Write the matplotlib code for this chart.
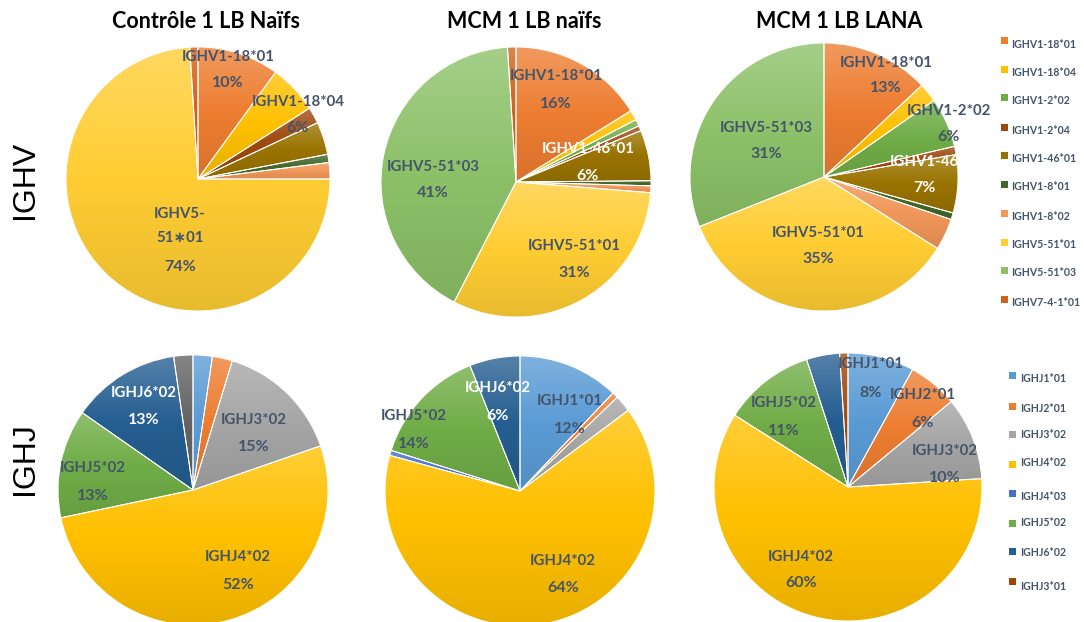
import numpy as np
import matplotlib
matplotlib.use("Agg")
import matplotlib.pyplot as plt
from matplotlib.colors import to_rgb
from matplotlib.patches import Rectangle

W, H = 1084, 622

# ---- data -----------------------------------------------------------------
titles = ["Contrôle 1 LB Naïfs", "MCM 1 LB naïfs", "MCM 1 LB LANA"]
row_labels = ["IGHV", "IGHJ"]

v_genes = ["IGHV1-18*01", "IGHV1-18*04", "IGHV1-2*02", "IGHV1-2*04", "IGHV1-46*01",
           "IGHV1-8*01", "IGHV1-8*02", "IGHV5-51*01", "IGHV5-51*03", "IGHV7-4-1*01"]
v_ctrl = [10, 6, 0, 2, 4, 1, 2, 74, 0, 1]
v_mcm_naif = [16, 1.2, 0.8, 0.6, 6, 0.6, 0.8, 31, 41, 1]
v_mcm_lana = [13, 2.3, 6, 1, 7, 0.8, 3.8, 35, 31, 0]
v_colors = ["#ED7D31", "#FFC000", "#70AD47", "#9E480E", "#997300",
            "#43682B", "#F1975A", "#FFCD33", "#8CC168", "#D2601A"]

j_genes = ["IGHJ1*01", "IGHJ2*01", "IGHJ3*02", "IGHJ4*02", "IGHJ4*03",
           "IGHJ5*02", "IGHJ6*02", "IGHJ3*01"]
j_ctrl = [2.3, 2.4, 15, 52, 0, 13, 13, 2.3]
j_mcm_naif = [12, 0.7, 2, 64, 0.6, 14, 6, 0]
j_mcm_lana = [8, 6, 10, 60, 0, 11, 4, 1]
j_colors = ["#5B9BD5", "#ED7D31", "#A5A5A5", "#FFC000", "#4472C4",
            "#70AD47", "#255E91", "#9E480E"]
j_colors_ctrl = j_colors[:7] + ["#636363"]

# ---- layout ---------------------------------------------------------------
TXT = "#44546A"
FONT = ["Lato", "DejaVu Sans"]
pies = [
    # values, colors, center (px), radius, labels: (index, text, x, y_name, y_pct, color)
    (v_ctrl, v_colors, (198, 179), 132, [
        (0, "IGHV1-18*01", 228, 57, 83, TXT),
        (1, "IGHV1-18*04", 298, 102, 128, TXT),
        (7, "IGHV5-\n51\u221701", 180, 226, 267, TXT),
    ]),
    (v_mcm_naif, v_colors, (516, 182), 135, [
        (0, "IGHV1-18*01", 556, 76, 104, TXT),
        (4, "IGHV1-46*01", 588, 149, 176, "white"),
        (8, "IGHV5-51*03", 433, 167, 193, TXT),
        (7, "IGHV5-51*01", 574, 246, 273, TXT),
    ]),
    (v_mcm_lana, v_colors, (824, 177), 134, [
        (0, "IGHV1-18*01", 886, 63, 88, TXT),
        (2, "IGHV1-2*02", 949, 111, 137, TXT),
        (4, "IGHV1-46", 924, 162, 188, "white"),
        (8, "IGHV5-51*03", 766, 128, 154, TXT),
        (7, "IGHV5-51*01", 818, 233, 259, TXT),
    ]),
    (j_ctrl, j_colors_ctrl, (193, 490), 135, [
        (6, "IGHJ6*02", 144, 393, 420, "white"),
        (2, "IGHJ3*02", 254, 420, 447, TXT),
        (5, "IGHJ5*02", 93, 468, 496, TXT),
        (3, "IGHJ4*02", 238, 557, 585, TXT),
    ]),
    (j_mcm_naif, j_colors, (520, 491), 135, [
        (6, "IGHJ6*02", 498, 388, 416, "white"),
        (0, "IGHJ1*01", 570, 401, 429, TXT),
        (5, "IGHJ5*02", 414, 416, 444, TXT),
        (3, "IGHJ4*02", 563, 561, 588, TXT),
    ]),
    (j_mcm_lana, j_colors, (848, 487), 134, [
        (0, "IGHJ1*01", 871, 364, 393, TXT),
        (1, "IGHJ2*01", 923, 395, 423, TXT),
        (2, "IGHJ3*02", 945, 451, 478, TXT),
        (5, "IGHJ5*02", 784, 403, 431, TXT),
        (3, "IGHJ4*02", 801, 557, 583, TXT),
    ]),
]
title_pos = [(206, 22), (524, 22), (839, 22)]
row_pos = [(25, 180), (25, 459)]

v_leg_marker_y = [40, 69, 97, 127, 155, 184, 213, 242, 270, 299]
v_leg_text_y = [44, 72, 101, 130, 158, 187, 216, 244, 273, 303]
j_leg_marker_y = [375, 406, 434, 464, 493, 523, 551, 581]
j_leg_text_y = [379, 409, 434, 463, 497, 523, 552, 586]


def tint(c, f):
    rgb = np.array(to_rgb(c))
    return rgb + (1 - rgb) * f if f >= 0 else rgb * (1 + f)


def gradient(c, n=256):
    """Vertical fill: lighter tint at the top, base colour mid-way, a bit darker at the bottom."""
    t = np.linspace(0, 1, n)[:, None, None]
    top, mid, bot = tint(c, 0.22), np.array(to_rgb(c)), tint(c, -0.09)
    upper = mid + (top - mid) * (t - 0.5) * 2
    lower = bot + (mid - bot) * t * 2
    return np.clip(np.where(t >= 0.5, upper, lower), 0, 1)


def draw_pie(ax, values, colors, center, r):
    cx, cy = center
    wedges, _ = ax.pie(values, colors=colors, center=(cx, H - cy), radius=r,
                       startangle=90, counterclock=False, frame=True,
                       wedgeprops=dict(edgecolor="white", linewidth=0.7))
    for w, v, c in zip(wedges, values, colors):
        if v <= 0:
            w.set_visible(False)
            continue
        ext = w.get_path().get_extents()
        im = ax.imshow(gradient(c), extent=(ext.x0, ext.x1, ext.y0, ext.y1),
                       origin="lower", aspect="auto", interpolation="bilinear", zorder=1)
        im.set_clip_path(w)
        w.set_facecolor("none")
        w.set_zorder(2)


fig = plt.figure(figsize=(W / 100, H / 100), dpi=100)
ax = fig.add_axes([0, 0, 1, 1])

for values, colors, center, r, labels in pies:
    draw_pie(ax, values, colors, center, r)
    for idx, text, x, yn, yp, col in labels:
        ax.text(x, H - yn, text, ha="center", va="center", fontsize=10.8,
                fontweight="bold", family=FONT, color=col, zorder=5,
                linespacing=1.85)
        ax.text(x, H - yp, f"{values[idx]:.0f}%", ha="center", va="center",
                fontsize=11.5, fontweight="bold", family=FONT, color=col, zorder=5)

for t, (x, y) in zip(titles, title_pos):
    ax.text(x, H - y, t, ha="center", va="center", fontsize=15.5, fontweight="bold",
            family=FONT, color="black")

for t, (x, y) in zip(row_labels, row_pos):
    ax.text(x, H - y, t, ha="center", va="center", fontsize=23, rotation=90,
            family="Liberation Sans", color="black")

# legends
for name, c, ym, yt in zip(v_genes, v_colors, v_leg_marker_y, v_leg_text_y):
    ax.add_patch(Rectangle((1001, H - ym - 3.5), 7, 7, facecolor=c, edgecolor="none"))
    ax.text(1011, H - yt, name, ha="left", va="center", fontsize=7.6, fontweight="bold",
            family=FONT, color=TXT)
for name, c, ym, yt in zip(j_genes, j_colors, j_leg_marker_y, j_leg_text_y):
    ax.add_patch(Rectangle((1009, H - ym - 3.5), 7, 7, facecolor=c, edgecolor="none"))
    ax.text(1020, H - yt, name, ha="left", va="center", fontsize=7.6, fontweight="bold",
            family=FONT, color=TXT)

ax.set_xlim(0, W)
ax.set_ylim(0, H)
ax.set_aspect("auto")
ax.axis("off")
fig.savefig("out.png", dpi=100)
